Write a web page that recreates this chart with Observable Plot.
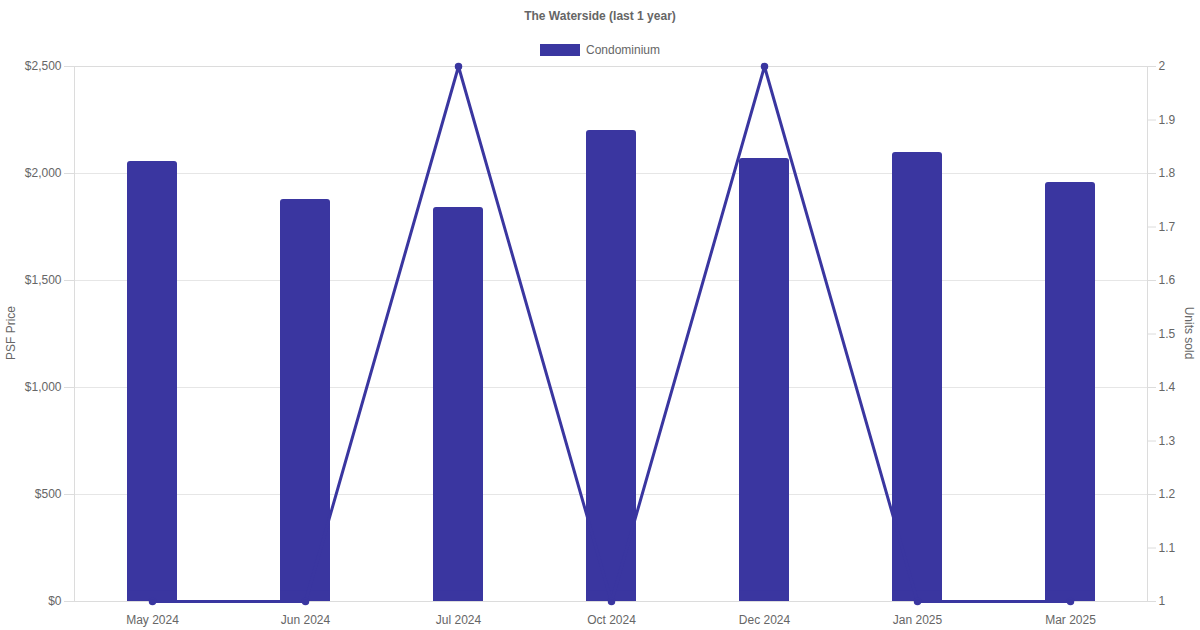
<!DOCTYPE html>
<html><head><meta charset="utf-8">
<script src="https://cdn.jsdelivr.net/npm/d3@7"></script>
<script src="https://cdn.jsdelivr.net/npm/@observablehq/plot@0.6"></script>
<style>
body{margin:0;background:#fff;font-family:"Liberation Sans",Arial,sans-serif;}
#wrap{position:relative;width:1200px;height:630px;overflow:hidden;}
#title{position:absolute;top:9px;left:0;width:1200px;text-align:center;font-size:12px;font-weight:bold;color:#666;}
#legend{position:absolute;top:43px;left:0;width:1200px;display:flex;justify-content:center;align-items:center;font-size:12px;color:#666;}
#legend .sw{width:40px;height:12px;background:#3A36A0;margin-right:6px;}
#chart{position:absolute;top:56px;left:0;}
.ylab{position:absolute;font-size:12px;color:#666;white-space:nowrap;}
</style></head>
<body>
<div id="wrap">
  <div id="title">The Waterside (last 1 year)</div>
  <div id="legend"><div class="sw"></div><span>Condominium</span></div>
  <div id="chart"></div>
  <div class="ylab" style="left:11px;top:333px;transform:translate(-50%,-50%) rotate(-90deg);">PSF Price</div>
  <div class="ylab" style="left:1189px;top:333px;transform:translate(-50%,-50%) rotate(90deg);">Units sold</div>
</div>
<script>
const months = ["May 2024","Jun 2024","Jul 2024","Oct 2024","Dec 2024","Jan 2025","Mar 2025"];
const psf = [2056,1878,1841,2201,2070,2098,1958];
const units = [1,1,2,1,2,1,1];
const leftTicks = [0,500,1000,1500,2000,2500];
const rightTicks = [1,1.1,1.2,1.3,1.4,1.5,1.6,1.7,1.8,1.9,2];

const data = months.map((m,i)=>({month:m, psf:psf[i], units:units[i]}));
const uMin = 1, uMax = 2, pMax = 2500;
const u2y = u => (u-uMin)/(uMax-uMin)*pMax;
const color = "#3A36A0";

const chart = Plot.plot({
  width:1200, height:574,
  marginTop:10, marginBottom:29, marginLeft:74, marginRight:53,
  style:{fontFamily:"'Liberation Sans',Arial,sans-serif", fontSize:"12px", color:"#666", background:"#fff", overflow:"visible"},
  x:{domain:months, paddingInner:0.674, paddingOuter:0.337, label:null},
  y:{domain:[0,pMax], label:null},
  marks:[
    Plot.gridY(leftTicks,{stroke:"#e6e6e6", strokeOpacity:1}),
    Plot.frame({stroke:"#dcdcdc"}),
    Plot.barY(data,{x:"month", y:"psf", fill:color, rx:3}),
    Plot.barY(data,{x:"month", y1:0, y2:d=>Math.min(d.psf, 50), fill:color}),
    Plot.line(data,{x:"month", y:d=>u2y(d.units), stroke:color, strokeWidth:3}),
    Plot.dot(data,{x:"month", y:d=>u2y(d.units), r:3, fill:color, stroke:color}),
    Plot.axisY(leftTicks,{anchor:"left", tickFormat:d=>"$"+d3.format(",")(d), tickSize:10, tickPadding:3, stroke:"#dcdcdc", label:null}),
    Plot.axisY(rightTicks.map(u2y),{anchor:"right", tickFormat:d=>d3.format("")(+(uMin + d/pMax*(uMax-uMin)).toFixed(1)), tickSize:8, tickPadding:3, stroke:"#dcdcdc", label:null}),
    Plot.axisX({tickSize:0, tickPadding:14, label:null})
  ]
});
document.getElementById("chart").appendChild(chart);
</script>
</body></html>
